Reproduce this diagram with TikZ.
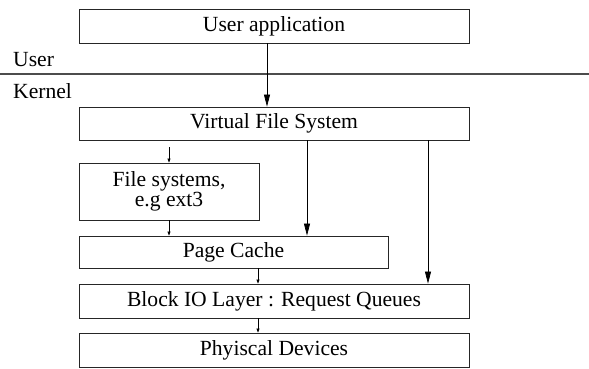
\documentclass[tikz,border=0pt]{standalone}
\usepackage{fontspec}
\setmainfont{Liberation Serif}
\newfontfamily\timesfont{Liberation Serif}
\usetikzlibrary{arrows.meta}
\tikzset{layer/.append style={draw=black!85,rectangle,line width=0.8pt,inner sep=0pt,font=\timesfont\fontsize{21.6}{17.5}\selectfont}}
\tikzset{big/.append style={-{Triangle[length=12pt,width=6pt]},line width=0.7pt}}
\tikzset{small/.append style={-{Triangle[length=4pt,width=3pt]},line width=0.7pt}}

\begin{document}
\begin{tikzpicture}[x=1pt,y=-1pt]
                \useasboundingbox (0,0) rectangle (589,368);
                % boxes
                \node[layer,minimum width=390pt,minimum height=34pt] (app) at (274,26) {User application};
                \node[layer,minimum width=390pt,minimum height=33pt] (vfs) at (274,123.5) {Virtual File System};
                \node[layer,minimum width=180pt,minimum height=57pt,align=center] (fs) at (169,191.5) {File systems,\\ e.g ext3};
                \node[layer,minimum width=309pt,minimum height=32pt] (pc) at (233.5,252) {Page Cache};
                \node[layer,minimum width=390pt,minimum height=34pt] (bio) at (274,301) {Block IO Layer : Request Queues};
                \node[layer,minimum width=390pt,minimum height=34pt] (dev) at (274,350) {Phyiscal Devices};
                % user / kernel split
                \coordinate (l) at (0,74);
                \coordinate (r) at (589,74);
                \draw[black!70,line width=1.1pt] (l) -- (r);
                \node[font=\timesfont\fontsize{21.6}{26}\selectfont,anchor=base west,inner sep=0pt] (user) at (13,66) {User};
                \node[font=\timesfont\fontsize{21.6}{26}\selectfont,anchor=base west,inner sep=0pt] (kernel) at (13,98) {Kernel};
                % arrows
                \draw[big] ([xshift=-7pt]app.south) -- ([xshift=-7pt]vfs.north);
                \draw[small] ([yshift=-7pt]vfs.south -| fs.north) -- (fs.north);
                \draw[big] ([xshift=33pt]vfs.south) -- ([xshift=33pt]vfs.south |- pc.north);
                \draw[big] ([xshift=154pt]vfs.south) -- ([xshift=154pt]bio.north);
                \draw[small] (fs.south) -- (fs.south |- pc.north);
                \draw[small] ([xshift=-16pt]bio.north |- pc.south) -- ([xshift=-16pt]bio.north);
                \draw[small] ([xshift=-16pt]bio.south) -- ([xshift=-16pt]dev.north);
            \end{tikzpicture}
\end{document}
